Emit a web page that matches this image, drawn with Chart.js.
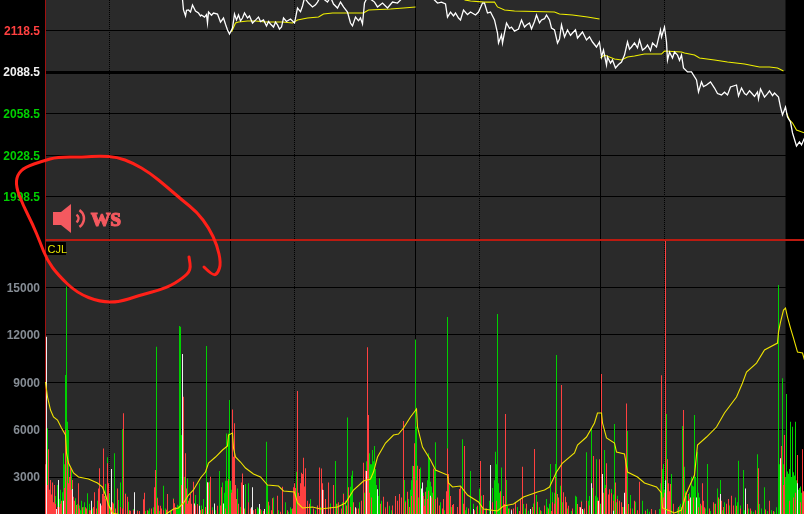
<!DOCTYPE html>
<html>
<head>
<meta charset="utf-8">
<title>CJL</title>
<script src="https://cdn.jsdelivr.net/npm/chart.js@4/dist/chart.umd.js"></script>
<style>
html,body{margin:0;padding:0;background:#000;overflow:hidden}
canvas{display:block}
</style>
</head>
<body>
<canvas id="myChart" width="804" height="514"></canvas>
<script>
// tick labels
const priceTicks = [1998.5, 2028.5, 2058.5, 2088.5, 2118.5];
const volumeTicks = [3000, 6000, 9000, 12000, 15000];
const sessionLines = [185, 370, 555];
const midLines = [64, 249, 434, 619];
const closePrice = 2088.5;
const cjlPrice = 1967.4;
const plotEnd = 740; // dark panel stops here

// white price line [bar, price]
const priceLine = [[137,2141],[138,2133.3],[140,2129],[141,2133],[143,2133.3],[145,2131.8],[147,2136.9],[150,2132.6],[153,2131.1],[155,2129],[156,2129.7],[159,2128.2],[161,2130],[162,2123.9],[163,2131.8],[166,2129.5],[168,2131.1],[172,2130.4],[175,2124.6],[178,2127.5],[180,2123],[182,2118.9],[184,2116],[187,2120.3],[189,2130.4],[191,2126.1],[193,2129.7],[195,2125.5],[197,2127.5],[199,2131.1],[202,2127.5],[204,2129],[207,2123.9],[210,2126],[213,2128.2],[215,2125],[218,2126.1],[221,2121.8],[223,2125],[225,2123.2],[228,2121],[230,2124.5],[232,2122.5],[234,2119.5],[236,2121],[238,2127.5],[241,2125],[245,2126.8],[249,2123.9],[252,2134.7],[255,2132],[257,2136.2],[259,2142],[263,2138.3],[267,2135.5],[270,2137],[272,2139],[275,2143],[282,2139],[285,2142.7],[288,2137.6],[292,2134.7],[295,2139],[298,2135.5],[302,2131.8],[305,2123.9],[307,2121.8],[310,2128.2],[313,2125.5],[315,2127.5],[317,2123.2],[319,2138.3],[322,2142.7],[329,2139],[332,2135.5],[337,2138.3],[342,2134.7],[347,2139],[352,2138.3],[357,2142],[370,2146],[388,2141.2],[392,2138.3],[396,2139],[400,2137.6],[402,2128.2],[405,2131.8],[408,2129],[410,2131.1],[413,2127.5],[415,2126.1],[418,2133.3],[422,2130],[425,2131.8],[430,2129.7],[433,2131.8],[437,2138.3],[439,2138.3],[442,2131.1],[445,2131.8],[449,2126.1],[452,2116.7],[453,2109.5],[456,2115.3],[457,2109.5],[459,2117],[461,2123.9],[464,2120],[466,2121],[469,2118.1],[473,2119.6],[476,2126.1],[479,2121],[481,2122.5],[484,2123.9],[486,2119.6],[489,2125],[491,2129.7],[494,2124],[496,2126.1],[499,2127],[501,2129.7],[504,2126.1],[506,2120.3],[509,2118.9],[512,2109.5],[514,2112.4],[516,2122.5],[519,2113.8],[522,2118.9],[525,2115],[527,2116.7],[530,2119],[532,2113.1],[537,2117.4],[541,2111.7],[544,2114],[547,2110.2],[551,2106.6],[554,2110.2],[556,2099.4],[558,2104.4],[561,2093.6],[562,2099.4],[565,2095],[567,2097.2],[570,2091.5],[573,2094],[576,2095.8],[579,2100.8],[582,2110.2],[584,2105],[586,2106.6],[589,2109.5],[592,2106],[594,2111.7],[597,2104.4],[600,2106],[602,2108],[605,2104],[607,2109.5],[611,2106.6],[615,2118.9],[616,2113.8],[619,2121],[621,2110.2],[622,2097.2],[624,2103],[627,2098.7],[629,2103],[632,2100.8],[634,2097],[636,2100.8],[638,2091.5],[642,2088.6],[646,2088.6],[651,2082.8],[653,2074.2],[656,2081.4],[658,2078],[661,2079.2],[665,2081.4],[669,2077],[672,2073],[676,2072],[679,2074],[682,2072],[685,2077.8],[691,2079.2],[693,2071.3],[696,2077],[699,2073],[701,2072],[704,2075],[706,2073.4],[709,2071],[712,2074.2],[713,2069.1],[715,2076.3],[719,2070.5],[722,2073],[724,2074.9],[727,2071.5],[729,2073.4],[733,2070.5],[735,2063.3],[737,2057.6],[740,2063.3],[742,2056.1],[745,2052.5],[747,2044.6],[751,2035.2],[754,2038.1],[756,2036],[759,2041]];

// yellow average of price, null = new session
const priceAvg = [[186,2117.4],[190,2123.9],[193,2124.6],[202,2125.4],[210,2125.4],[220,2124.6],[237,2124.6],[247,2123.9],[252,2126.1],[262,2127.5],[273,2128.2],[278,2130.4],[287,2131.1],[318,2131.1],[323,2133.3],[345,2134],[358,2134.7],[370,2135.5],[371,null],
  [419,2140.5],[425,2139.8],[439,2139],[449,2139],[452,2135.5],[459,2133.3],[469,2132.6],[509,2131.8],[514,2130.4],[527,2129.7],[542,2128.2],[554,2126.8],[555,null],
  [555,2098.7],[559,2100.8],[569,2098],[576,2097.2],[582,2099.4],[589,2100.1],[599,2101.5],[616,2101.5],[619,2103.7],[636,2103],[639,2102.3],[649,2100.8],[654,2098.7],[669,2097.2],[682,2095.8],[699,2094.3],[714,2092.2],[724,2092.2],[732,2091.5],[738,2089.3],[739,null],
  [741,2059],[744,2054],[747,2051.8],[751,2046.7],[759,2044.6]];

// yellow average of volume
const volumeAvg = [[0,9013],[2,8065],[5,7241],[8,6798],[12,6608],[16,6101],[20,5658],[21,4519],[23,3886],[28,3253],[33,3000],[43,2874],[52,2620],[57,2367],[60,1860],[63,1227],[67,720],[75,600],[100,550],[120,600],[122,720],[128,975],[133,1038],[138,1355],[143,1860],[148,2177],[155,2937],[160,3316],[163,3886],[170,4266],[177,4709],[182,4962],[183,5658],[187,5785],[188,4835],[190,4266],[195,3950],[200,3570],[208,3190],[215,3000],[222,2494],[233,2430],[238,2114],[249,2050],[252,1355],[257,1038],[267,1100],[275,975],[292,1100],[300,1355],[308,2177],[318,2747],[325,2874],[328,3316],[332,4266],[340,5153],[348,5658],[353,5722],[358,6101],[365,6798],[371,7304],[372,6165],[377,4899],[385,4076],[390,3443],[402,3126],[403,2620],[407,2367],[415,2430],[422,1860],[433,1417],[438,975],[452,847],[458,1163],[468,1290],[478,1734],[492,2050],[499,2177],[504,2367],[511,3316],[517,3886],[529,4519],[532,5025],[541,5531],[549,6418],[552,7051],[556,7051],[557,6418],[561,5469],[569,5153],[571,4582],[579,4456],[582,3316],[592,3000],[599,2620],[611,2367],[616,1988],[617,1038],[629,720],[636,911],[641,1988],[649,3126],[652,5025],[661,5531],[671,6165],[679,7051],[691,8065],[697,8950],[701,9646],[711,10216],[719,11039],[732,11481],[733,12178],[735,12811],[738,13571],[740,13698],[742,13128],[745,12432],[748,11799],[752,10912],[757,10849],[759,10405]];

// volume bars [bar, volume]
const greenBars = [[2,6080],[3,2560],[4,1300],[6,1440],[7,1710],[10,1800],[12,2500],[14,1600],[15,2200],[17,2030],[18,4500],[19,3800],[20,9460],[21,15050],[22,6500],[23,5970],[24,2600],[25,1900],[26,3440],[28,1500],[29,1290],[30,1660],[32,1290],[34,1200],[35,900],[36,1500],[38,1100],[39,1400],[42,1970],[44,1300],[47,1000],[49,1750],[52,1500],[56,900],[60,2560],[62,4245],[64,1970],[67,1000],[69,4500],[70,800],[73,1540],[75,2660],[77,6020],[80,1970],[83,1440],[88,975],[92,900],[94,800],[100,850],[103,870],[104,1000],[106,900],[108,1080],[111,11250],[112,1710],[114,850],[118,2450],[120,1000],[125,870],[126,900],[128,1650],[131,1080],[132,1240],[133,1185],[134,12560],[135,12520],[136,5660],[137,5660],[138,3800],[139,3000],[140,2400],[141,1900],[142,2915],[143,1300],[145,1000],[148,2350],[150,1860],[152,900],[154,2600],[156,1200],[158,1610],[160,1000],[161,11290],[164,2700],[167,1080],[170,900],[174,3380],[177,2660],[179,2000],[180,2770],[181,5760],[182,2770],[183,5760],[184,7870],[185,2770],[186,2200],[187,1800],[189,3000],[190,1700],[192,2280],[193,1290],[195,1100],[200,2560],[203,2600],[206,800],[212,1080],[213,1000],[216,900],[221,5240],[222,2490],[224,1200],[228,1710],[233,900],[240,1400],[243,800],[245,1080],[246,970],[251,3340],[252,1080],[255,900],[258,1920],[262,1000],[265,1610],[270,900],[275,1100],[280,850],[283,1710],[285,1330],[288,1000],[290,4010],[292,1300],[297,1400],[298,1970],[300,1500],[302,6770],[303,1100],[305,2388],[306,3090],[307,3400],[311,1000],[314,1400],[316,1500],[318,1500],[319,2000],[320,2600],[321,4000],[322,3800],[323,3600],[324,4500],[325,3800],[326,3800],[327,4710],[328,4000],[329,4960],[330,3500],[331,2500],[332,2100],[333,1800],[334,2915],[336,1500],[340,1100],[344,1185],[346,900],[352,1000],[354,1930],[356,1300],[359,2810],[360,1500],[363,1600],[365,2200],[366,2800],[367,3710],[368,2300],[370,11714],[371,6186],[373,1700],[375,3610],[376,1900],[378,2000],[379,1600],[381,2350],[382,2800],[383,4500],[384,4180],[385,2700],[386,2400],[387,2000],[389,3440],[390,5195],[392,1300],[395,1400],[399,900],[402,13128],[404,2490],[406,1100],[412,1000],[417,5385],[420,900],[421,1080],[425,3380],[428,1300],[431,1100],[434,2280],[436,1820],[440,1000],[444,1500],[447,2300],[449,2800],[450,4600],[451,3800],[452,13318],[453,2600],[454,2000],[456,3610],[458,1500],[461,2810],[462,1185],[464,1000],[468,850],[472,1100],[478,1290],[480,1000],[483,870],[487,900],[488,1330],[491,1860],[494,1080],[496,850],[501,1600],[502,1080],[504,1300],[505,3820],[507,2030],[509,2000],[510,3820],[511,10720],[512,1290],[513,1500],[515,2450],[516,3020],[517,1400],[518,1970],[520,1610],[522,1000],[526,850],[530,1820],[531,1750],[534,1000],[536,1500],[538,900],[541,4560],[543,1500],[544,1800],[546,6080],[547,2300],[550,1820],[551,4120],[552,1700],[555,1300],[556,3820],[559,4710],[560,2500],[563,1300],[566,2240],[568,1900],[569,6360],[571,1400],[572,1820],[578,1100],[582,5910],[585,1860],[587,1000],[590,1440],[592,850],[597,1500],[600,900],[602,975],[604,800],[610,900],[614,975],[615,2600],[617,3500],[618,3820],[619,2200],[621,6990],[623,2000],[624,1500],[626,3190],[628,1000],[632,1000],[634,1185],[635,1300],[637,6228],[639,3650],[640,2100],[641,1800],[642,1500],[644,2000],[646,3020],[647,2450],[648,2400],[649,6925],[650,3000],[652,4600],[653,2000],[654,1700],[656,1200],[660,1000],[662,3820],[665,850],[669,1300],[672,2280],[674,1600],[675,2810],[677,900],[679,1400],[681,1000],[684,1200],[688,1000],[690,1710],[692,1400],[693,4035],[695,1200],[698,3440],[699,900],[703,1000],[706,870],[708,800],[712,4435],[714,1290],[716,1000],[719,2350],[722,850],[726,900],[729,800],[731,1080],[733,15153],[734,3800],[735,3800],[736,3800],[737,9245],[738,3800],[739,3500],[740,3000],[741,8254],[742,3350],[743,3200],[744,3500],[745,6500],[746,3000],[747,6186],[748,3300],[749,3100],[750,6500],[751,2800],[752,2600],[753,2200],[754,2300],[755,2400],[756,2000],[757,1800],[758,1500]];

const redBars = [[0,3800],[1,3230],[2,2500],[3,4750],[4,2200],[5,2810],[6,1900],[7,2660],[8,1400],[9,2500],[10,1300],[12,1100],[14,1080],[15,1300],[16,1500],[19,2300],[20,5970],[22,4200],[23,2600],[24,3000],[25,3550],[26,2200],[27,2810],[28,1750],[29,1500],[31,1220],[33,2600],[34,1000],[37,1080],[40,1080],[41,1000],[44,900],[45,900],[48,1100],[49,2030],[51,1000],[53,2280],[54,3550],[56,1200],[57,1920],[58,4810],[59,1800],[60,1600],[62,3870],[63,2600],[65,1100],[67,1400],[68,1320],[70,1000],[72,2280],[75,1100],[77,1000],[78,7030],[80,1920],[82,1750],[84,900],[85,870],[88,900],[92,870],[94,850],[98,1590],[99,2010],[102,900],[106,1000],[109,2350],[110,3440],[112,1650],[113,1200],[115,1185],[116,1000],[118,900],[121,920],[122,1920],[125,800],[128,1610],[129,1340],[130,1100],[136,2500],[138,8085],[140,4500],[141,2280],[142,1300],[143,1500],[144,1650],[145,1920],[146,1300],[148,2700],[150,1200],[152,1290],[155,900],[157,975],[160,1100],[163,2660],[165,3020],[167,900],[169,1280],[172,1185],[175,1200],[176,2350],[180,1000],[183,2870],[186,2000],[187,7280],[188,4290],[189,6400],[190,2500],[191,1610],[193,1300],[196,2660],[197,3230],[199,1000],[203,1400],[205,1000],[208,900],[210,975],[215,975],[218,850],[223,1440],[226,900],[227,1650],[232,1820],[235,800],[237,2388],[242,900],[247,1000],[248,2350],[249,2600],[250,2300],[252,8444],[253,2000],[254,1800],[255,2600],[256,3270],[257,3190],[258,4220],[259,2400],[260,3550],[262,1500],[264,1300],[268,1000],[272,1200],[274,3610],[276,3540],[277,2600],[278,2170],[280,1600],[283,2660],[285,1100],[288,2490],[291,1300],[293,1400],[296,1000],[298,1920],[301,1200],[303,2350],[305,1100],[308,1400],[311,1000],[313,1000],[316,1500],[318,3910],[320,3400],[322,11208],[323,6920],[324,2000],[326,1700],[335,1300],[338,1750],[340,1000],[342,1440],[347,1200],[350,1790],[352,1500],[354,1920],[356,1700],[358,6545],[360,1400],[362,2070],[364,1100],[366,1800],[368,3700],[369,5130],[371,2800],[372,3720],[374,3500],[376,1500],[378,1800],[379,1185],[380,2070],[382,1600],[383,2130],[386,1700],[388,3540],[390,1600],[392,1710],[394,1200],[397,1000],[398,1610],[401,2100],[402,4810],[403,3190],[405,1800],[407,1230],[408,1290],[412,1100],[414,2240],[415,2388],[418,1300],[419,4960],[423,1000],[429,900],[432,1185],[435,4010],[437,1000],[438,1860],[441,1000],[447,1400],[451,1500],[455,2100],[458,1800],[459,1290],[460,6990],[463,1000],[466,975],[468,1000],[470,1400],[474,850],[475,1610],[477,3650],[481,1300],[487,1100],[489,4770],[492,1440],[495,900],[499,1200],[503,1000],[506,850],[507,1400],[509,1300],[510,3000],[512,1920],[513,1700],[516,8824],[518,2030],[520,1750],[521,1400],[523,1185],[527,1000],[532,1290],[534,1100],[536,1440],[539,1000],[541,1500],[544,1200],[548,4330],[552,1500],[554,4120],[556,9520],[558,2000],[560,2300],[561,3870],[563,1900],[564,2220],[566,1970],[568,1500],[570,2660],[572,1600],[574,1500],[576,1400],[577,1100],[580,4070],[581,7660],[583,1290],[585,1000],[589,1500],[592,900],[594,2700],[600,850],[606,975],[610,900],[616,9450],[617,1080],[618,1700],[619,2000],[620,18000],[622,4120],[623,2600],[624,2100],[625,2560],[628,1300],[633,1100],[636,1080],[638,7240],[640,2000],[643,1920],[644,1600],[648,1700],[653,1080],[655,1300],[657,2600],[658,1500],[659,1080],[664,1000],[668,1400],[670,1300],[673,1700],[676,1500],[678,1100],[681,1300],[683,1610],[686,1820],[688,1200],[691,1185],[695,1000],[702,1290],[705,1000],[710,900],[713,3550],[720,950],[724,1500],[728,850],[735,1800],[736,4960],[738,2500],[739,5660],[744,1500],[748,1700],[750,2000],[752,4390],[755,1400],[757,4750],[758,2100]];

const whiteBars = [[1,11880],[11,975],[13,2810],[18,1500],[27,2240],[46,1500],[55,1330],[66,3500],[89,2030],[137,10790],[149,1330],[154,1185],[162,2670],[169,1330],[178,1330],[198,2490],[206,1080],[207,2350],[214,1290],[219,975],[277,2200],[310,1080],[321,3380],[332,2230],[376,2280],[377,2660],[385,1820],[428,975],[445,3760],[466,900],[485,975],[535,1080],[537,970],[546,2600],[553,1500],[557,3190],[568,870],[579,2000],[620,2800],[643,1500],[645,1710],[651,1710],[675,1920],[700,2280],[735,4180],[752,2600]];

// hand-drawn note on the screenshot
const scribble = [[204,267],[213,276],[218,273],[221,263],[217,245],[209,228],[197,212],[182,200],[167,187],[150,173],[133,163],[117,157],[100,156],[83,157],[57,157],[43,161],[25,167],[17,175],[16,187],[23,205],[33,225],[40,242],[47,260],[58,275],[77,293],[100,302],[120,302],[137,296],[167,288],[183,278],[191,270],[189,257]];

function toPoints(list){
    return list.map(p => ({x: p[0], y: p[1]}));
}

function barSet(list, color){
    return {type:'bar', data:toPoints(list), xAxisID:'x', yAxisID:'volume', backgroundColor:color, barThickness:1, borderWidth:0, inflateAmount:0, grouped:false, order:3};
}

function lineSet(list, color, yAxisID){
    return {type:'line', data:toPoints(list), xAxisID:'x', yAxisID:yAxisID, borderColor:color, borderWidth:1.1, pointRadius:0, tension:0, spanGaps:false, order:1};
}

const panel = {
    id:'panel',
    beforeDraw(chart){
        const ctx = chart.ctx, a = chart.chartArea;
        ctx.save();
        ctx.fillStyle = '#2a2a2a';
        ctx.fillRect(a.left, a.top, chart.scales.x.getPixelForValue(plotEnd) - a.left, a.bottom - a.top);
        ctx.restore();
    },
    afterDraw(chart){
        const ctx = chart.ctx;
        ctx.save();
        // CJL tag
        ctx.fillStyle = '#000';
        ctx.fillRect(46, 242, 20, 13);
        ctx.fillStyle = '#e6e600';
        ctx.font = '11px "Liberation Sans"';
        ctx.textBaseline = 'alphabetic';
        ctx.fillText('CJL', 47.5, 252.5);
        // speaker icon
        ctx.fillStyle = '#f4595f';
        ctx.strokeStyle = '#f4595f';
        ctx.beginPath();
        ctx.moveTo(53,212);ctx.lineTo(61,212);ctx.lineTo(71,204);ctx.lineTo(71,233);ctx.lineTo(61,225);ctx.lineTo(53,225);
        ctx.closePath();
        ctx.fill();
        ctx.lineWidth = 2.5;
        ctx.beginPath();ctx.arc(74,218.5,4.5,-1,1);ctx.stroke();
        ctx.beginPath();ctx.arc(74,218.5,10,-1,1);ctx.stroke();
        ctx.font = 'bold 27px "Liberation Serif"';
        ctx.fillText('ws', 91, 226);
        ctx.lineWidth = 1;
        ctx.strokeText('ws', 91, 226);
        // red circle
        ctx.strokeStyle = '#ff2018';
        ctx.lineWidth = 3;
        ctx.lineJoin = 'round';
        ctx.lineCap = 'round';
        ctx.beginPath();
        ctx.moveTo(scribble[0][0], scribble[0][1]);
        for(let i = 1; i < scribble.length - 1; i++){
            const p = scribble[i], q = scribble[i+1];
            ctx.quadraticCurveTo(p[0], p[1], (p[0]+q[0])/2, (p[1]+q[1])/2);
        }
        ctx.lineTo(scribble[scribble.length-1][0], scribble[scribble.length-1][1]);
        ctx.stroke();
        ctx.restore();
    }
};

function fixAxis(width){
    return function(scale){
        scale.paddingTop = 0;
        scale.paddingBottom = 0;
        scale.paddingLeft = 0;
        scale.paddingRight = 0;
        if(width !== undefined) scale.width = width;
    };
}

function xAxis(values, dash){
    return {
        type:'linear', min:-0.5, max:758.5, position:'bottom', offset:false,
        afterBuildTicks(scale){ scale.ticks = values.map(v => ({value:v})); },
        afterFit:fixAxis(),
        ticks:{display:false, autoSkip:false},
        grid:{color:'#000', lineWidth:1, drawTicks:false, offset:false},
        border:{display:false, dash:dash}
    };
}

let ctx = document.getElementById("myChart");
let myChart = new Chart(ctx, {
    data:{
        datasets:[
            Object.assign(lineSet(priceLine, '#ffffff', 'price'), {borderWidth:1.3}),
            lineSet(priceAvg, '#f0f000', 'price'),
            lineSet(volumeAvg, '#f0e400', 'volume'),
            Object.assign(lineSet([[0,cjlPrice],[759,cjlPrice]], '#bb1a10', 'price'), {borderWidth:2, clip:false}),
            barSet(whiteBars, '#f0f0f0'),
            barSet(redBars, '#ff4040'),
            barSet(greenBars, '#00d000')
        ]
    },
    plugins:[panel],
    options:{
        responsive:false,
        animation:false,
        events:[],
        layout:{padding:0},
        plugins:{legend:{display:false}, tooltip:{enabled:false}},
        scales:{
            x:xAxis(sessionLines, []),
            x2:xAxis(midLines, [1,1]),
            volume:{
                type:'linear', position:'left', stack:'panes', stackWeight:274,
                min:658, max:18006,
                afterBuildTicks(scale){ scale.ticks = volumeTicks.map(v => ({value:v})); },
                afterFit:fixAxis(45),
                grid:{color:'#000', drawTicks:false, lineWidth:1},
                border:{color:'#a01010'},
                ticks:{
                    autoSkip:false, padding:5, labelOffset:1,
                    font:{family:'"Liberation Sans"', size:12, weight:'bold'},
                    color:'#858c94',
                    callback:v => String(v)
                }
            },
            price:{
                type:'linear', position:'left', stack:'panes', stackWeight:240,
                min:cjlPrice, max:2140.5,
                afterBuildTicks(scale){ scale.ticks = priceTicks.map(v => ({value:v})); },
                afterFit:fixAxis(45),
                grid:{color:'#000', drawTicks:false, lineWidth:c => c.tick && c.tick.value === closePrice ? 3 : 1},
                border:{color:'#a01010'},
                ticks:{
                    autoSkip:false, padding:5, labelOffset:1,
                    font:{family:'"Liberation Sans"', size:12, weight:'bold'},
                    color:c => c.tick.value > closePrice ? '#ff4040' : (c.tick.value < closePrice ? '#00d000' : '#f0f0f0'),
                    callback:v => v.toFixed(1)
                }
            }
        }
    }
});
</script>
</body>
</html>
